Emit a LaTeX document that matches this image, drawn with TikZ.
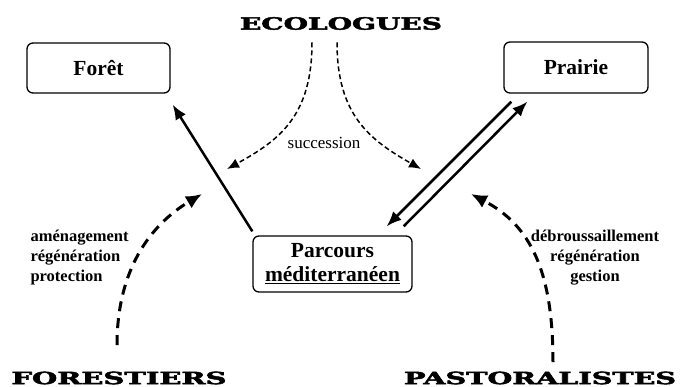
\documentclass[tikz,border=0pt]{standalone}
\usepackage{fontspec}
\setmainfont{Liberation Serif}
\newfontfamily\slab{DejaVu Serif}[BoldFeatures={FakeBold=2.5}]
\usetikzlibrary{arrows.meta}
\newcommand{\acteur}[2]{\resizebox{#1}{12.5pt}{\slab\bfseries #2}}
\tikzset{
	boite/.style={draw, rounded corners=6pt, line width=1.3pt, align=center, font=\fontsize{21.5}{24}\selectfont\bfseries},
	fleche/.style={line width=2.5pt, -{Latex[length=15pt,width=12pt]}},
	succ/.style={line width=1.5pt, dash pattern=on 5pt off 3pt, -{Latex[length=12pt,width=10pt]}},
	action/.style={line width=3pt, dash pattern=on 10pt off 7pt, -{Latex[length=16pt,width=14pt]}},
	note/.style={font=\fontsize{16.5}{20}\selectfont\bfseries}
}
\begin{document}
\begin{tikzpicture}[x=1pt, y=-1pt]
	\useasboundingbox (0,0) rectangle (681,387);
	\node[boite, minimum width=143pt, minimum height=50pt] (foret) at (98.5,68) {Forêt};
	\node[boite, minimum width=144pt, minimum height=51pt] (prairie) at (576,67.5) {Prairie};
	\node[boite, minimum width=159pt, minimum height=56pt] (parcours) at (332.5,264) {Parcours\\\underline{méditerranéen}};
	\node (ecol) at (341,23.5) {\acteur{202pt}{ECOLOGUES}};
	\node (forest) at (119,378) {\acteur{215pt}{FORESTIERS}};
	\node (pasto) at (540,378) {\acteur{272pt}{PASTORALISTES}};
	\node[font=\fontsize{17}{20}\selectfont] (succession) at (324,143) {succession};
	\node[note, align=left, anchor=west] (amenag) at (27,258) {aménagement\\régénération\\protection};
	\node[note, align=center] (debrous) at (595,258) {débroussaillement\\régénération\\gestion};
	\coordinate (succG) at (227,169);
	\coordinate (succD) at (421,169);
	\coordinate (forestF) at (202,194);
	\coordinate (pastoF) at (471,194);
	\draw[succ] ([shift={(-29,9)}]ecol.south) .. controls +(0,73) and +(53,-29) .. (succG);
	\draw[succ] ([shift={(-4,9)}]ecol.south) .. controls +(0,73) and +(-51,-29) .. (succD);
	\draw[fleche] ([shift={(0,-4)}]parcours.north west) -- ([shift={(2,11)}]foret.south east);
	\draw[fleche] ([shift={(8,8)}]prairie.south west) -- ([shift={(-26,-9)}]parcours.north east);
	\draw[fleche] ([shift={(-9,-9)}]parcours.north east) -- ([shift={(24,8)}]prairie.south west);
	\draw[action] ([shift={(-2,-23)}]forest.north) .. controls +(0,-75) and +(-52,31) .. (forestF);
	\draw[action] ([shift={(13,-6)}]pasto.north) .. controls +(0,-92) and +(59,31) .. (pastoF);
\end{tikzpicture}
\end{document}
